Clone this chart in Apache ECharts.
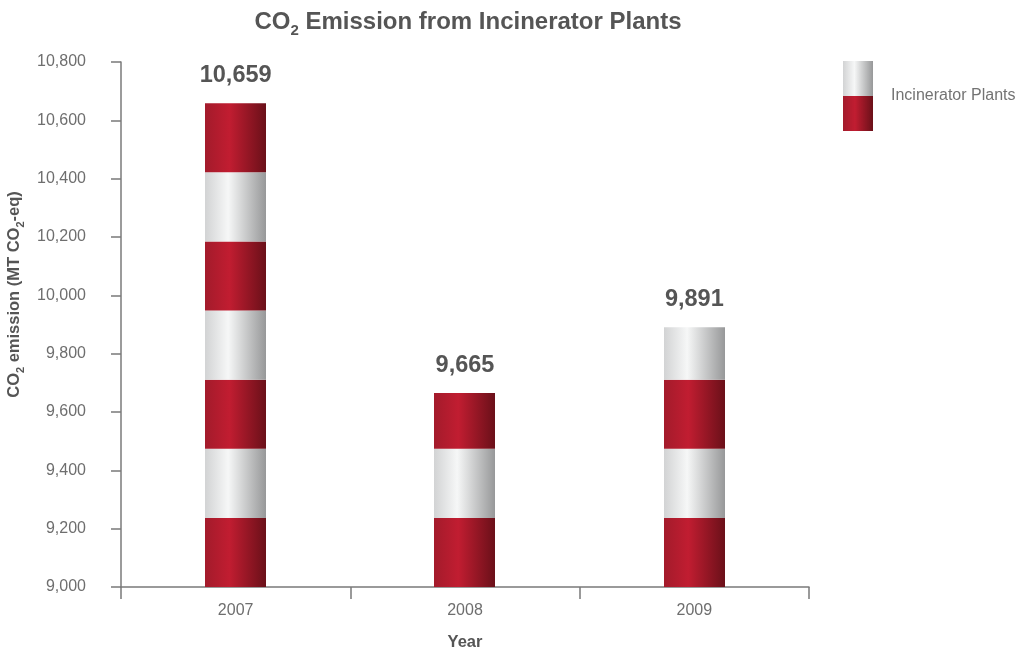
<!DOCTYPE html>
<html>
<head>
<meta charset="utf-8">
<script src="https://cdn.jsdelivr.net/npm/echarts@6/dist/echarts.min.js"></script>
<style>
  html, body { margin: 0; padding: 0; background: #fff; }
  #chart { width: 1020px; height: 652px; }
</style>
</head>
<body>
<div id="chart"></div>
<script>
// Annual CO2 emission from incinerator plants (MT CO2-eq)
const years = ['2007', '2008', '2009'];
const emissions = [10659, 9665, 9891];
const seriesName = 'Incinerator Plants';
const yMin = 9000, yMax = 10800, yStep = 200;

// Each bar is painted as alternating red / silver bands of a fixed value height
const bandSpan = 237;
const font = 'Liberation Sans, Arial, sans-serif';

const redStops = [
  { offset: 0, color: '#a31b2b' },
  { offset: 0.4, color: '#c11d31' },
  { offset: 1, color: '#6a1019' }
];
const silverStops = [
  { offset: 0, color: '#d2d3d4' },
  { offset: 0.38, color: '#f6f7f7' },
  { offset: 1, color: '#979899' }
];
const redFill = () => new echarts.graphic.LinearGradient(0, 0, 1, 0, redStops);
const silverFill = () => new echarts.graphic.LinearGradient(0, 0, 1, 0, silverStops);

// Legend swatch: silver band over red band
function swatchIcon() {
  const c = document.createElement('canvas');
  c.width = 30; c.height = 70;
  const ctx = c.getContext('2d');
  const mk = stops => {
    const g = ctx.createLinearGradient(0, 0, 30, 0);
    stops.forEach(s => g.addColorStop(s.offset, s.color));
    return g;
  };
  ctx.fillStyle = mk(silverStops); ctx.fillRect(0, 0, 30, 35);
  ctx.fillStyle = mk(redStops); ctx.fillRect(0, 35, 30, 35);
  return 'image://' + c.toDataURL();
}

const fmt = v => Number(v).toLocaleString('en-US');

function renderBar(params, api) {
  const cat = api.value(0);
  const val = api.value(1);
  const w = api.size([1, 0])[0] * 0.266;
  const cx = api.coord([cat, yMin])[0];
  const children = [];
  for (let k = 0; yMin + k * bandSpan < val; k++) {
    const lo = yMin + k * bandSpan;
    const hi = Math.min(lo + bandSpan, val);
    const pTop = api.coord([cat, hi]);
    const pBot = api.coord([cat, lo]);
    children.push({
      type: 'rect',
      shape: { x: Math.round(cx - w / 2), y: pTop[1], width: Math.round(w), height: pBot[1] - pTop[1] },
      style: { fill: k % 2 === 0 ? redFill() : silverFill() }
    });
  }
  const top = api.coord([cat, val]);
  children.push({
    type: 'text',
    x: cx, y: top[1] - 28,
    style: {
      text: fmt(val),
      fill: '#555555',
      font: 'bold 23.5px ' + font,
      align: 'center',
      verticalAlign: 'middle'
    }
  });
  return { type: 'group', children };
}

const chart = echarts.init(document.getElementById('chart'), null, { renderer: 'canvas' });
chart.setOption({
  animation: false,
  backgroundColor: '#ffffff',
  title: {
    text: '{b|CO}{s|2}{b| Emission from Incinerator Plants}',
    left: 463, top: 0, textAlign: 'center',
    textStyle: {
      rich: {
        b: { fontFamily: font, fontWeight: 'bold', fontSize: 24, color: '#555555', lineHeight: 29, verticalAlign: 'bottom' },
        s: { fontFamily: font, fontWeight: 'bold', fontSize: 15, color: '#555555', lineHeight: 25, verticalAlign: 'bottom', padding: [0, 0, -4, 0] }
      }
    }
  },
  legend: {
    data: [seriesName],
    left: 843, top: 61,
    padding: 0,
    itemWidth: 30, itemHeight: 70,
    icon: swatchIcon(),
    selectedMode: false,
    textStyle: { fontFamily: font, fontSize: 16, color: '#737373', padding: [2, 0, 0, 13] }
  },
  grid: { left: 121, right: 211, top: 62, bottom: 65, containLabel: false, outerBoundsMode: 'none' },
  xAxis: {
    type: 'category',
    data: years,
    boundaryGap: true,
    name: 'Year',
    nameLocation: 'middle',
    nameGap: 47,
    nameTextStyle: { fontFamily: font, fontWeight: 'bold', fontSize: 16.5, color: '#555555' },
    axisLine: { lineStyle: { color: '#7a7a7a', width: 1.5 } },
    axisTick: { show: true, length: 12, lineStyle: { color: '#7a7a7a', width: 1.5 } },
    axisLabel: { fontFamily: font, fontSize: 16, color: '#6e6e6e', margin: 16 },
    splitLine: { show: false }
  },
  yAxis: {
    type: 'value',
    min: yMin, max: yMax, interval: yStep,
    name: '{b|CO}{s|2}{b| emission (MT CO}{s|2}{b|-eq)}',
    nameLocation: 'middle',
    nameRotate: 90,
    nameGap: 90,
    nameTextStyle: {
      padding: [0, 0, 0, 60],
      rich: {
        b: { fontFamily: font, fontWeight: 'bold', fontSize: 16.5, color: '#555555', lineHeight: 20, verticalAlign: 'bottom' },
        s: { fontFamily: font, fontWeight: 'bold', fontSize: 11, color: '#555555', lineHeight: 17, verticalAlign: 'bottom', padding: [0, 0, -3, 0] }
      }
    },
    axisLine: { show: true, lineStyle: { color: '#7a7a7a', width: 1.5 } },
    axisTick: { show: true, length: 10, lineStyle: { color: '#7a7a7a', width: 1.5 } },
    axisLabel: { fontFamily: font, fontSize: 16, color: '#6e6e6e', margin: 35, formatter: fmt },
    splitLine: { show: false }
  },
  series: [{
    name: seriesName,
    type: 'custom',
    renderItem: renderBar,
    itemStyle: { color: '#b81c2e' },
    encode: { x: 0, y: 1 },
    data: years.map((y, i) => [i, emissions[i]]),
    silent: true
  }]
});
</script>
</body>
</html>
